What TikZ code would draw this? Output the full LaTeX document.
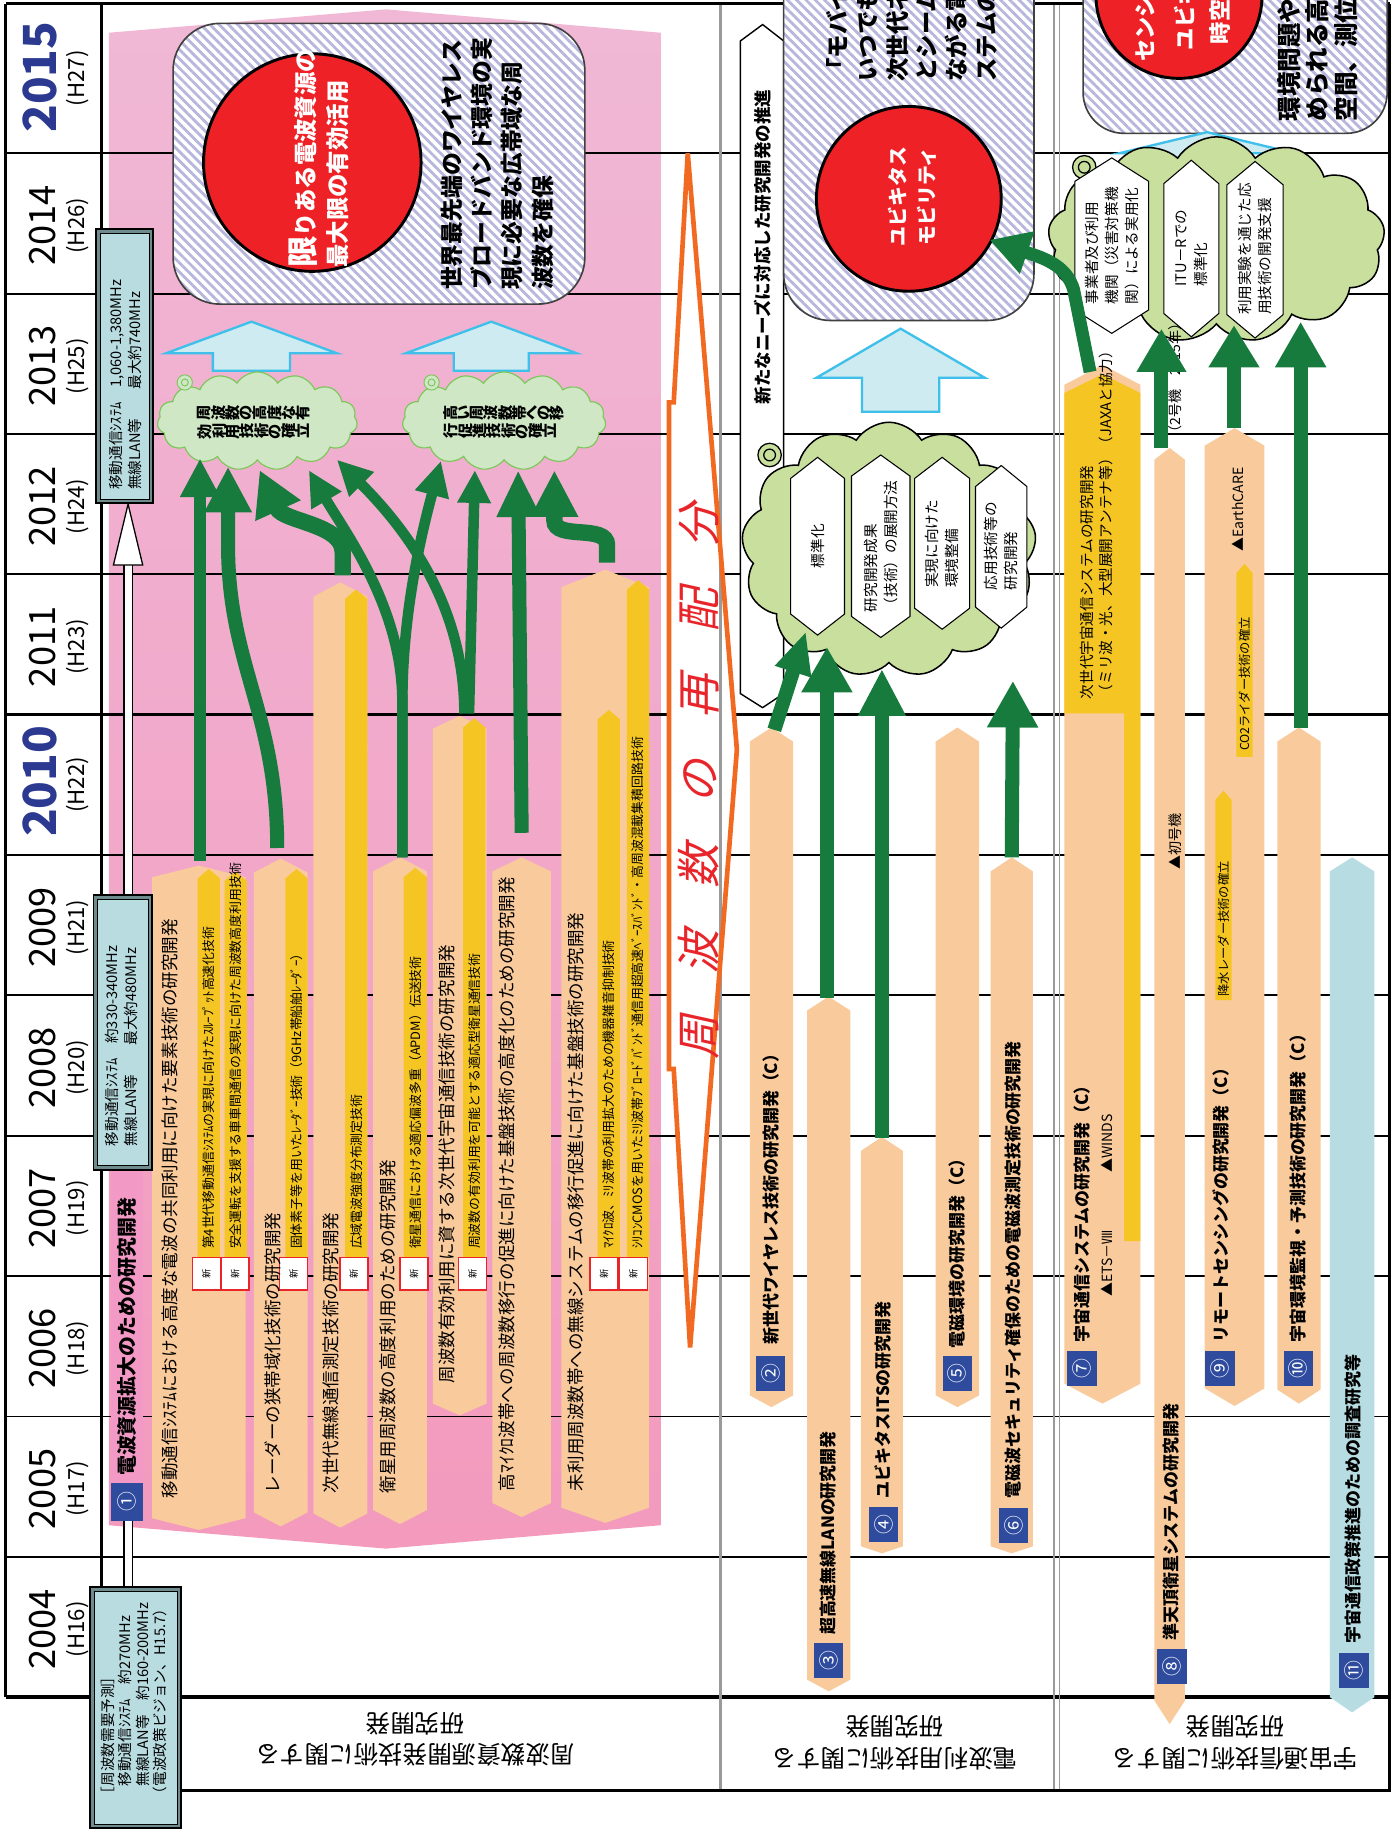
\documentclass[tikz,border=0pt]{standalone}
\usepackage{fontspec}
\setmainfont{Noto Sans CJK JP}
\usepackage{graphicx}
\usetikzlibrary{arrows.meta,shapes.geometric,shapes.symbols,patterns.meta}

\definecolor{peach}{HTML}{F9CA9B}
\definecolor{subyel}{HTML}{F5C623}
\definecolor{pinkTop}{HTML}{EEC8E0}
\definecolor{pinkMid}{HTML}{F1AFCF}
\definecolor{pinkLow}{HTML}{F39ABD}
\definecolor{pinkBot}{HTML}{F07B83}
\definecolor{titlepink}{HTML}{F29AC5}
\definecolor{numblue}{HTML}{2E4B9E}
\definecolor{boxfill}{HTML}{B9DCE0}
\definecolor{boxrim}{HTML}{6E8C8D}
\definecolor{cloudfillA}{HTML}{CFE7C5}
\definecolor{cloudedgeA}{HTML}{7DC75A}
\definecolor{cloudfillB}{HTML}{C9DF9D}
\definecolor{dgreen}{HTML}{167B3D}
\definecolor{skyfill}{HTML}{CDEBF1}
\definecolor{skyedge}{HTML}{3FC0EB}
\definecolor{goalred}{HTML}{EE2226}
\definecolor{hatch}{HTML}{B7B6DC}
\definecolor{reorange}{HTML}{F26A21}
\definecolor{retext}{HTML}{E8252A}
\definecolor{navy}{HTML}{2B3990}
\definecolor{polblue}{HTML}{B7DCE1}
\definecolor{sepgrey}{HTML}{9A9A9A}
\definecolor{tagred}{HTML}{E8262A}

\pgfdeclareverticalshading{pinkfield}{100bp}{color(0bp)=(pinkBot); color(25bp)=(pinkLow); color(60bp)=(pinkMid); color(100bp)=(pinkTop)}

\newcommand\fsz[2]{\fontsize{#1}{#2}\selectfont}
\ExplSyntaxOn
% vertical writing: every glyph turned on its own
\NewDocumentCommand\tate{m}{\tl_map_inline:nn{#1}{\rotatebox[origin=c]{90}{##1}}}
\ExplSyntaxOff
% upright bar: colour, x1, x2, roof peak, roof drop, bottom point, point drop
\newcommand\roofbar[7]{\fill[#1] (#2,#4+#5) -- ({(#2+#3)/2},#4) -- (#3,#4+#5) -- (#3,#6-#7) -- ({(#2+#3)/2},#6) -- (#2,#6-#7) -- cycle;}
% yellow sub-theme strip: x1, x2, peak, bottom
\newcommand\ystrip[4]{\fill[subyel] (#1,#3+8) -- ({(#1+#2)/2},#3) -- (#2,#3+8) -- (#2,#4) -- (#1,#4) -- cycle;}
% white hexagon: x1, x2, top, bottom, drop
\newcommand\hexcell[5]{\filldraw[fill=white,draw=black,line width=0.9pt] (#1,#3+#5) -- ({(#1+#2)/2},#3) -- (#2,#3+#5) -- (#2,#4-#5) -- ({(#1+#2)/2},#4) -- (#1,#4-#5) -- cycle;}
% light blue block arrow: tip x, tip y, head half width, head base y, shaft half width, shaft end y
\newcommand\skyarrow[6]{\filldraw[fill=skyfill,draw=skyedge,line width=2pt,line join=miter] (#1,#2) -- (#1+#3,#4) -- (#1+#5,#4) -- (#1+#5,#6) -- (#1-#5,#6) -- (#1-#5,#4) -- (#1-#3,#4) -- cycle;}
% forecast panel with a framed rim
\newcommand\infopanel[4]{\filldraw[fill=boxrim,draw=black,line width=1.5pt] (#1,#2) rectangle (#3,#4);
  \filldraw[fill=boxfill,draw=black,line width=0.6pt] (#1+3.5,#2+3.5) rectangle (#3-3.5,#4-3.5);}

\begin{document}
\begin{tikzpicture}[x=1pt,y=-1pt,
  rtext/.style={rotate=90,inner sep=0pt},
  gridline/.style={line width=1.6pt},
  gridthick/.style={line width=3pt},
  framel/.style={line width=2.6pt},
  bubble/.style={rounded corners=40pt,preaction={fill=white},pattern={Lines[angle=-45,distance=5.6pt,line width=2.4pt]},pattern color=hatch,draw=black!75,line width=1.4pt},
  goal/.style={ellipse,fill=goalred,draw=black,line width=2.5pt,inner sep=0pt},
  cloudA/.style={cloud,cloud puffs=15,cloud puff arc=115,aspect=2,fill=cloudfillA,draw=cloudedgeA,line width=1pt,inner sep=0pt},
  cloudB/.style={cloud,cloud puffs=13,cloud puff arc=115,fill=cloudfillB,draw=black,line width=1.3pt,inner sep=0pt},
  numbox/.style={fill=numblue,text=white,font=\fsz{17}{17},inner sep=0pt},
  newtag/.style={fill=white,draw=tagred,line width=1.4pt,font=\fsz{8}{8},inner sep=0pt,minimum width=24pt,minimum height=28pt},
  garr/.style n args={3}{draw=dgreen,line width=#1,-{Triangle[width=#2,length=#3]}},
  bartext/.style={rtext,anchor=west,font=\fsz{15}{15}},
  subtext/.style={rtext,anchor=west,font=\fsz{11}{11}},
  themetext/.style={rtext,anchor=west,font=\bfseries\fsz{14.5}{14.5}},
  marktext/.style={rtext,anchor=west,font=\fsz{12}{12}},
  hextext/.style={rtext,align=left,font=\fsz{12.5}{17}},
]
\useasboundingbox (0,0) rectangle (1194,1568);
\clip (0,0) rectangle (1194,1568);
\fill[white] (0,0) rectangle (1194,1568);

% ---------- band 1 field ----------
\shade[shading=pinkfield] (93,28) -- (330,8) -- (565,28) -- (565,1304) -- (330,1324) -- (93,1304) -- cycle;

% ---------- year grid ----------
\foreach \gy in {131,251,371,491,731,851,971,1091,1211,1331}
  \draw[gridline] (5,\gy) -- (1188,\gy);
\draw[gridthick] (5,611) -- (1188,611);
\draw[gridthick] (5,1451) -- (1188,1451);

% body of the reallocation arrow
\fill[white] (588,131) -- (630,641) -- (590,1152) -- (576,914) -- (572,914) -- (572,344) -- (576,344) -- cycle;

% band separators and frame
\draw[sepgrey,line width=3pt] (616,3) -- (616,1531);
\draw[sepgrey,line width=1.3pt] (901,3) -- (901,1531) (906,3) -- (906,1531);
\draw[framel] (5,3) -- (1188,3);
\draw[framel] (5,3) -- (5,1451);
\draw[framel] (87,3) -- (87,1451);
\draw[framel] (1188,3) -- (1188,1531) -- (155,1531);

% ---------- years ----------
\node[rtext,font=\bfseries\fsz{39}{39},text=navy] (y2015) at (34,66) {2015};
\node[rtext,font=\fsz{19}{19}] (h2015) at (66,67) {(H27)};
\node[rtext,font=\bfseries\fsz{39}{39},text=navy] (y2010) at (34,668) {2010};
\node[rtext,font=\fsz{19}{19}] (h2010) at (66,671) {(H22)};
\foreach \yr/\hy/\yc in {2014/H26/193,2013/H25/313,2012/H24/433,2011/H23/553,2009/H21/793,2008/H20/913,2007/H19/1033,2006/H18/1153,2005/H17/1273,2004/H16/1393}{
  \node[rtext,font=\fsz{31}{31}] (y\yr) at (36,\yc) {\yr};
  \node[rtext,font=\fsz{19}{19}] (h\yr) at (66,\yc) {(\hy)};
}

% ---------- band 1: goal panel ----------
\draw[bubble] (148,20) rectangle (500,260);
\node[goal,minimum width=186pt,minimum height=186pt] (goalA) at (267,139) {};
\node[rtext,anchor=west,align=left,text=white,font=\bfseries\fsz{20}{27}] (goalAtxt) at (272.5,229) {{\fsz{27}{27}限}りある電波資源の\\最大限の有効活用};
\node[rtext,anchor=west,align=left,font=\bfseries\fsz{19.5}{26}] (visionA) at (425,248) {世界最先端のワイヤレス\\ブロードバンド環境の実\\現に必要な広帯域な周\\波数を確保};

\skyarrow{215}{275}{73}{302}{33}{317}
\skyarrow{420}{275}{73}{302}{32}{317}

\node[cloudA,minimum width=171pt,minimum height=84pt] (cloudL) at (220,360) {};
\node[cloudA,minimum width=174pt,minimum height=84pt] (cloudR) at (431,360) {};
\filldraw[fill=cloudfillA,draw=cloudedgeA,line width=0.8pt] (158,327) circle (6.5) (369,327) circle (6.5);
\draw[cloudedgeA,line width=0.8pt] (158,327) circle (3) (369,327) circle (3);
\node[font=\bfseries\fsz{13}{16},align=left,inner sep=0pt] (cloudLtxt) at (217,361) {\tate{周波数の高度な有}\\\tate{効利用技術の確立}};
\node[font=\bfseries\fsz{13}{16},align=left,inner sep=0pt] (cloudRtxt) at (431,361) {\tate{高い周波数帯への移}\\\tate{行促進技術の確立}};

% ---------- band 1: research bars ----------
\roofbar{peach}{130}{210}{740}{10}{1308}{10}
\roofbar{peach}{217}{263}{734}{12}{1305}{12}
\roofbar{peach}{268}{314}{498}{12}{1306}{12}
\roofbar{peach}{319}{365}{733}{12}{1303}{12}
\roofbar{peach}{370}{416}{612}{11}{1210}{10}
\roofbar{peach}{421}{471}{733}{12}{1297}{12}
\roofbar{peach}{480}{555}{487}{15}{1302}{13}

\ystrip{169}{188}{743}{1075}
\ystrip{192}{211}{745}{1075}
\ystrip{244}{263}{743}{1075}
\ystrip{295}{314}{504}{1075}
\ystrip{345}{365}{742}{1075}
\ystrip{396}{415}{614}{1075}
\ystrip{511}{530}{607}{1075}
\ystrip{536}{555}{496}{1075}

\foreach \tx/\tn in {176.5/1,201/2,251/3,302.5/4,354/5,404/6,516.5/7,541.5/8}
  \node[newtag] (new\tn) at (\tx,1089) {\rotatebox{90}{新}};

\node[bartext] (t1) at (145,1281) {移動通信ｼｽﾃﾑにおける高度な電波の共同利用に向けた要素技術の研究開発};
\node[bartext] (t2) at (233,1277) {レーダーの狭帯域化技術の研究開発};
\node[bartext] (t3) at (283,1277) {次世代無線通信測定技術の研究開発};
\node[bartext] (t4) at (332,1277) {衛星用周波数の高度利用のための研究開発};
\node[bartext] (t5) at (382,1183) {周波数有効利用に資する次世代宇宙通信技術の研究開発};
\node[bartext] (t6) at (433,1275) {高ﾏｲｸﾛ波帯への周波数移行の促進に向けた基盤技術の高度化のための研究開発};
\node[bartext] (t7) at (492,1275) {未利用周波数帯への無線システムの移行促進に向けた基盤技術の研究開発};

\node[subtext] (s1) at (178.5,1068) {第4世代移動通信ｼｽﾃﾑの実現に向けたｽﾙｰﾌﾟｯﾄ高速化技術};
\node[subtext] (s2) at (201.5,1068) {安全運転を支援する車車間通信の実現に向けた周波数高度利用技術};
\node[subtext] (s3) at (253.5,1068) {固体素子等を用いたﾚｰﾀﾞｰ技術（9GHz帯船舶ﾚｰﾀﾞｰ）};
\node[subtext] (s4) at (304.5,1068) {広域電波強度分布測定技術};
\node[subtext] (s5) at (355,1068) {衛星通信における適応偏波多重（APDM）伝送技術};
\node[subtext] (s6) at (405.5,1068) {周波数の有効利用を可能とする適応型衛星通信技術};
\node[subtext] (s7) at (520.5,1068) {ﾏｲｸﾛ波、ﾐﾘ波帯の利用拡大のための機器雑音抑制技術};
\node[subtext] (s8) at (545.5,1068) {ｼﾘｺﾝCMOSを用いたﾐﾘ波帯ﾌﾞﾛｰﾄﾞﾊﾞﾝﾄﾞ通信用超高速ﾍﾞｰｽﾊﾞﾝﾄﾞ・高周波混載集積回路技術};

% frequency demand forecasts linked by the white pipe
\filldraw[fill=white,draw=black,line width=0.9pt] (106,483) rectangle (113,1360);
\filldraw[fill=white,draw=black,line width=1.1pt] (109.5,431) -- (122,483) -- (97,483) -- cycle;
\fill[titlepink] (95,1001) rectangle (122,1268);
\node[rtext,anchor=west,font=\bfseries\fsz{17}{17}] (title1) at (108.5,1262) {電波資源拡大のための研究開発};
\node[numbox,minimum width=27pt,minimum height=32pt] (n1) at (108.5,1284) {\rotatebox{90}{①}};
\infopanel{82}{196}{131}{430}
\node[rtext,align=left,anchor=west,font=\fsz{12.5}{16}] (f2014) at (107,419) {移動通信ｼｽﾃﾑ　1,060-1,380MHz\\無線LAN等　　最大約740MHz};
\infopanel{80}{765}{130}{1000}
\node[rtext,align=left,anchor=west,font=\fsz{12.5}{16}] (f2009) at (104,980) {移動通信ｼｽﾃﾑ　約330-340MHz\\無線LAN等　　最大約480MHz};
\infopanel{77}{1357}{155}{1563}
\node[rtext,align=left,anchor=west,font=\fsz{12.5}{15}] (f2004) at (114.5,1540) {［周波数需要予測］\\　移動通信ｼｽﾃﾑ　約270MHz\\　無線LAN等　約160-200MHz\\（電波政策ビジョン、H15.7）};

% green links, band 1
\coordinate (b1s) at (171,736); \coordinate (b1e) at (171,392);
\coordinate (b2s) at (237,725); \coordinate (b2e) at (195,399);
\coordinate (b3s) at (293,492); \coordinate (b3e) at (222,402);
\coordinate (b4s) at (344,733); \coordinate (b4e) at (264,402); \coordinate (b4f) at (377,394);
\coordinate (b5s) at (397,610); \coordinate (b5e) at (288,393);
\coordinate (b5t) at (401,610); \coordinate (b5f) at (406,402);
\coordinate (b6s) at (446,712); \coordinate (b6e) at (443,402);
\coordinate (b7s) at (519,481); \coordinate (b7e) at (474,402);
\draw[garr={11pt}{32pt}{33pt}] (b1s) -- (b1e);
\draw[garr={12pt}{38pt}{39pt}] (b2s) .. controls (237,610) and (196,570) .. (195,470) -- (b2e);
\draw[garr={14pt}{40pt}{38pt}] (b3s) -- (293,472) .. controls (293,448) and (242,446) .. (b3e);
\draw[garr={9pt}{28pt}{30pt}] (b4s) -- (344,600) .. controls (344,520) and (295,455) .. (b4e);
\draw[garr={9pt}{28pt}{30pt}] (b4s) -- (344,600) .. controls (344,520) and (362,450) .. (b4f);
\draw[garr={9pt}{28pt}{30pt}] (b5s) .. controls (397,520) and (350,455) .. (b5e);
\draw[garr={9pt}{27pt}{28pt}] (b5t) -- (b5f);
\draw[garr={12pt}{35pt}{40pt}] (b6s) -- (b6e);
\draw[garr={14pt}{38pt}{40pt}] (b7s) -- (519,466) .. controls (519,448) and (474,462) .. (474,445) -- (b7e);

% reallocation arrow
\draw[reorange,line width=4pt,line join=miter] (588,131) -- (630,641) -- (590,1152) -- (576,914) -- (572,914) -- (572,344) -- (576,344) -- cycle;
\node[rtext,font=\fsz{38}{38}\addfontfeature{FakeSlant=0.22,LetterSpace=92},text=retext] (realloc) at (597,668) {周波数の再配分};

% ---------- band 2 ----------
\filldraw[fill=white,draw=black,line width=1.2pt] (633,35) -- (652,21) -- (670,35) -- (670,593) -- (652,605) -- (633,593) -- cycle;
\node[rtext,anchor=west,font=\bfseries\fsz{15}{15}] (needs) at (652,346) {新たなニーズに対応した研究開発の推進};
\draw[bubble] (670,-60) rectangle (884,274);
\node[rtext,anchor=west,align=left,font=\bfseries\fsz{20}{25.4}] (visionB) at (779.5,70) {「モバイル\\いつでも\\次世代ネ\\とシーム\\ながる電\\ステムの};
\node[goal,minimum width=158pt,minimum height=158pt] (goalB) at (777,170) {};
\node[rtext,align=center,text=white,font=\bfseries\fsz{17}{25}] (goalBtxt) at (780,168) {ユビキタス\\モビリティ};
\skyarrow{770}{281}{72}{323}{33}{352}

\node[cloudB,aspect=1.15,minimum width=252pt,minimum height=218pt] (cloudM) at (760,470) {};
\filldraw[fill=cloudfillB,draw=black,line width=1.1pt] (658,389) circle (10);
\draw[black,line width=1.1pt] (658,389) circle (5);
\hexcell{676}{722}{391}{543}{18}
\hexcell{728}{778}{389}{545}{18}
\hexcell{782}{829}{391}{538}{18}
\hexcell{834}{878}{398}{537}{18}
\node[hextext] (hx1) at (699,467) {標準化};
\node[hextext] (hx2) at (753,467) {研究開発成果\\（技術）の展開方法};
\node[hextext] (hx3) at (805.5,465) {実現に向けた\\環境整備};
\node[hextext] (hx4) at (856,467) {応用技術等の\\研究開発};

\roofbar{peach}{641}{678}{622}{12}{1203}{10}
\roofbar{peach}{690}{727}{852}{12}{1446}{10}
\roofbar{peach}{736}{772}{972}{12}{1328}{6}
\roofbar{peach}{800}{837}{622}{12}{1203}{10}
\roofbar{peach}{847}{883}{733}{12}{1328}{6}

\node[themetext] (t2b) at (659,1150) {新世代ワイヤレス技術の研究開発（C）};
\node[themetext] (t3b) at (708,1398) {超高速無線LANの研究開発};
\node[themetext] (t4b) at (755,1281) {ユビキタスITSの研究開発};
\node[themetext] (t5b) at (818,1153) {電磁環境の研究開発（C）};
\node[themetext] (t6b) at (866,1281) {電磁波セキュリティ確保のための電磁波測定技術の研究開発};

\node[numbox,minimum width=25pt,minimum height=30pt] (n2) at (659,1174) {\rotatebox{90}{②}};
\node[numbox,minimum width=25pt,minimum height=30pt] (n3) at (708.5,1420) {\rotatebox{90}{③}};
\node[numbox,minimum width=25pt,minimum height=30pt] (n4) at (755.5,1303) {\rotatebox{90}{④}};
\node[numbox,minimum width=25pt,minimum height=30pt] (n5) at (818.5,1174) {\rotatebox{90}{⑤}};
\node[numbox,minimum width=25pt,minimum height=30pt] (n6) at (866.5,1304) {\rotatebox{90}{⑥}};

\coordinate (a2s) at (662,624); \coordinate (a2e) at (689,540);
\coordinate (a3s) at (707,853); \coordinate (a3e) at (707,553);
\coordinate (a4s) at (754,973); \coordinate (a4e) at (754,572);
\coordinate (a6s) at (865,733); \coordinate (a6e) at (866,582);
\draw[garr={12pt}{30pt}{36pt}] (a2s) -- (a2e);
\draw[garr={12pt}{41pt}{39pt}] (a3s) -- (a3e);
\draw[garr={12pt}{38pt}{40pt}] (a4s) -- (a4e);
\draw[garr={12pt}{41pt}{40pt}] (a6s) -- (a6e);

% ---------- band 3 ----------
\draw[bubble,rounded corners=35pt] (926,-60) rectangle (1186,114);
\node[goal,minimum width=142pt,minimum height=142pt] (goalC) at (1008,-4) {};
\node[rtext,anchor=west,text=white,font=\bfseries\fsz{19}{19}] (goalC1) at (979,53) {センシ};
\node[rtext,anchor=west,text=white,font=\bfseries\fsz{19}{19}] (goalC2) at (1013,43) {ユビキ};
\node[rtext,anchor=west,text=white,font=\bfseries\fsz{19}{19}] (goalC3) at (1043,38) {時空};
\node[rtext,anchor=west,align=left,font=\bfseries\fsz{21}{24.5}] (visionC) at (1126.5,104) {環境問題や\\められる高\\空間、測位の};
\skyarrow{1032}{113}{75}{131}{33}{165}

\node[cloudB,aspect=1.6,minimum width=288pt,minimum height=176pt] (cloudS) at (1040,205) {};
\filldraw[fill=cloudfillB,draw=black,line width=1.1pt] (927,143) circle (10);
\draw[black,line width=1.1pt] (927,143) circle (5);
\hexcell{919}{982}{135}{285}{20}
\hexcell{995}{1042}{137}{288}{20}
\hexcell{1049}{1097}{138}{289}{20}
\node[hextext] (hxA) at (951,210) {事業者及び利用\\機関（災害対策機\\関）による実用化};
\node[hextext] (hxB) at (1019,212) {ITU－Rでの\\標準化};
\node[hextext] (hxC) at (1073,213) {利用実験を通じた応\\用技術の開発支援};

\roofbar{peach}{910}{975}{312}{17}{1200}{17}
\fill[subyel] (910,336) -- (942.5,320) -- (975,336) -- (975,1061) -- (961,1061) -- (961,610) -- (910,610) -- cycle;
\roofbar{peach}{987}{1013}{383}{10}{1474}{20}
\roofbar{peach}{1030}{1081}{366}{15}{1202}{15}
\fill[subyel] (1057,490) -- (1064,482) -- (1071,490) -- (1071,647) -- (1057,647) -- cycle;
\fill[subyel] (1039,684) -- (1046,676) -- (1053,684) -- (1053,855) -- (1039,855) -- cycle;
\roofbar{peach}{1092}{1129}{622}{12}{1200}{12}
\roofbar{polblue}{1137}{1175}{733}{12}{1464}{13}

\node[rtext,anchor=west,align=left,font=\fsz{12.5}{17}] (jaxa) at (937.5,598) {次世代宇宙通信システムの研究開発\\（ミリ波・光、大型展開アンテナ等）（JAXAと協力）};
\node[themetext] (t7b) at (925,1148) {宇宙通信システムの研究開発（C）};
\node[marktext] (ets) at (946,1109) {▲ETS－Ⅷ};
\node[marktext] (winds) at (946,1003) {▲WINDS};
\node[themetext] (t8b) at (1001,1403) {準天頂衛星システムの研究開発};
\node[marktext] (qzs1) at (1005,744) {▲初号機};
\node[marktext] (qzs2) at (1005,376) {（2号機　2015年）};
\node[themetext] (t9b) at (1044,1148) {リモートセンシングの研究開発（C）};
\node[marktext] (earthcare) at (1058,472) {▲EarthCARE};
\node[rtext,anchor=west,font=\fsz{10.5}{10.5}] (co2) at (1064,642) {CO2ライダー技術の確立};
\node[rtext,anchor=west,font=\fsz{10.5}{10.5}] (rain) at (1046,852) {降水レーダー技術の確立};
\node[themetext] (t10b) at (1110,1148) {宇宙環境監視・予測技術の研究開発（C）};
\node[themetext] (t11b) at (1157,1405) {宇宙通信政策推進のための調査研究等};

\node[numbox,minimum width=25pt,minimum height=30pt] (n7) at (925,1170) {\rotatebox{90}{⑦}};
\node[numbox,minimum width=25pt,minimum height=30pt] (n8) at (1002,1425) {\rotatebox{90}{⑧}};
\node[numbox,minimum width=25pt,minimum height=30pt] (n9) at (1043,1170) {\rotatebox{90}{⑨}};
\node[numbox,minimum width=25pt,minimum height=30pt] (n10) at (1110,1170) {\rotatebox{90}{⑩}};
\node[numbox,minimum width=25pt,minimum height=30pt] (n11) at (1157.5,1428) {\rotatebox{90}{⑪}};

\coordinate (a7s) at (932,318); \coordinate (a7e) at (846,205);
\coordinate (a8s) at (993,383); \coordinate (a8e) at (993,281);
\coordinate (a9s) at (1055,366); \coordinate (a9e) at (1055,278);
\coordinate (a10s) at (1112,622); \coordinate (a10e) at (1112,275);
\draw[garr={11pt}{36pt}{34pt}] (a7s) -- (918,248) .. controls (912,226) and (890,220) .. (a7e);
\draw[garr={12pt}{40pt}{37pt}] (a8s) -- (a8e);
\draw[garr={12pt}{41pt}{36pt}] (a9s) -- (a9e);
\draw[garr={12pt}{41pt}{39pt}] (a10s) -- (a10e);

% ---------- band labels ----------
\node[rotate=180,align=center,font=\fsz{21}{27}] (lab1) at (355,1487) {周波数資源開発技術に関する\\研究開発};
\node[rotate=180,align=center,font=\fsz{21}{27}] (lab2) at (765,1490) {電波利用技術に関する\\研究開発};
\node[rotate=180,align=center,font=\fsz{21}{27}] (lab3) at (1056,1490) {宇宙通信技術に関する\\研究開発};
\end{tikzpicture}
\end{document}
